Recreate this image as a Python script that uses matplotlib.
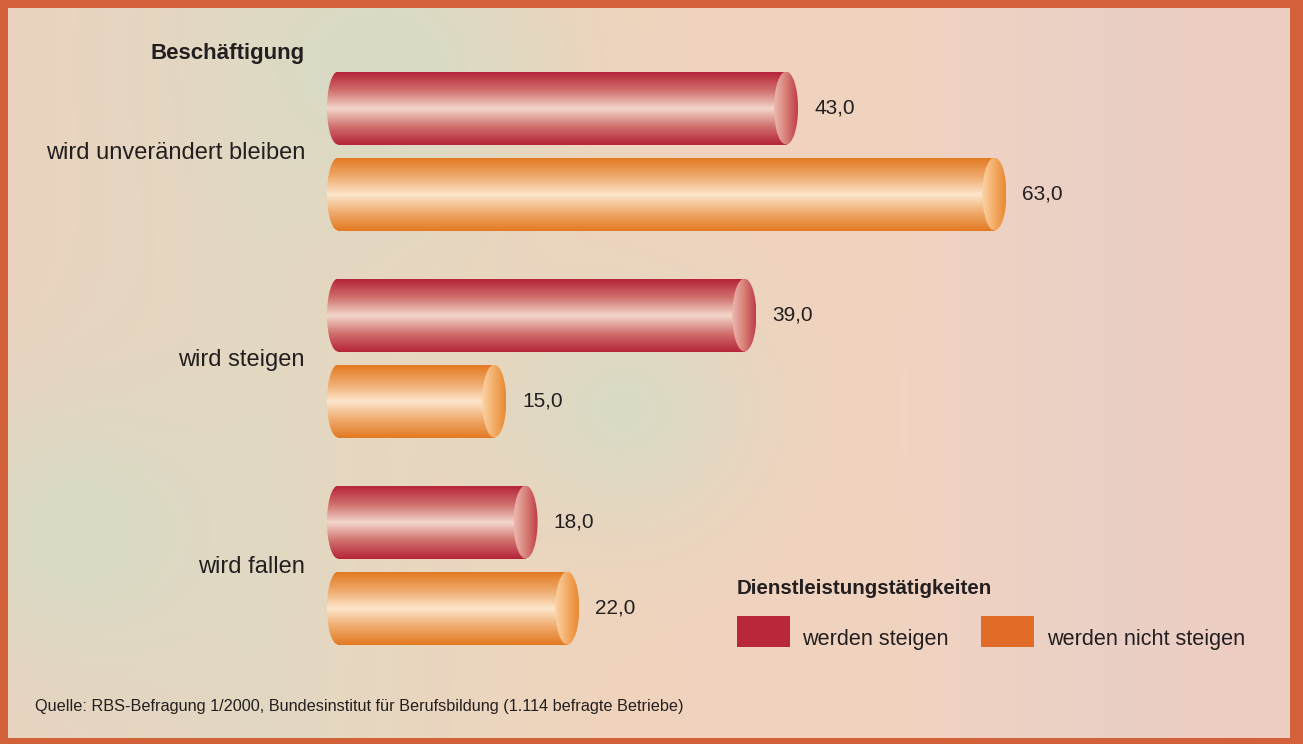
import numpy as np
import matplotlib
matplotlib.use("Agg")
import matplotlib.pyplot as plt
from matplotlib.colors import LinearSegmentedColormap, to_rgb
from matplotlib.patches import Ellipse, Rectangle

# data
categories = ["wird unverändert bleiben", "wird steigen", "wird fallen"]
steigen = [43.0, 39.0, 18.0]          # werden steigen
nicht_steigen = [63.0, 15.0, 22.0]    # werden nicht steigen
series_names = ["werden steigen", "werden nicht steigen"]
series_colors = ["#b8273a", "#e06c28"]
axis_title = "Beschäftigung"
legend_title = "Dienstleistungstätigkeiten"
source = "Quelle: RBS-Befragung 1/2000, Bundesinstitut für Berufsbildung (1.114 befragte Betriebe)"

plt.rcParams['font.family'] = ['Liberation Sans', 'DejaVu Sans']
TXT = "#231f20"

W, H = 1303, 744
fig = plt.figure(figsize=(W / 100, H / 100), dpi=100)
fig.patch.set_facecolor("#d2613a")

# panel background (smooth gradient)
bg = fig.add_axes([8 / W, 6 / H, 1282 / W, 730 / H])
bg.set_axis_off()
xs = np.linspace(0, 1, 400)
ys = np.linspace(0, 1, 240)
stops_x = [0.0, 0.2, 0.45, 0.7, 0.85, 1.0]
stops_c = [to_rgb(c) for c in ["#ead3bf", "#e3d8c2", "#efd4bd", "#f1d3c0", "#ead0c6", "#efcdc2"]]
img = np.zeros((len(ys), len(xs), 3))
for k in range(3):
    row = np.interp(xs, stops_x, [c[k] for c in stops_c])
    img[:, :, k] = row[None, :]
gx, gy = np.meshgrid(xs, ys)
green = np.array(to_rgb("#d5dcc6"))
for cx, cy, r in [(0.05, 0.72, 0.12), (0.3, 0.08, 0.12), (0.48, 0.55, 0.10)]:
    wgt = np.exp(-(((gx - cx) / r) ** 2 + ((gy - cy) / (r * 1.6)) ** 2))[..., None]
    img = img * (1 - 0.8 * wgt) + green * 0.8 * wgt
bg.imshow(img, aspect='auto', extent=(0, 1, 1, 0), interpolation='bicubic')
bg.set_xlim(0, 1)
bg.set_ylim(1, 0)

# bar axes: 1 x-unit = 10.42 px, zero at x=338 px; axes starts a bit left of zero
x0_px, px_per, ax_left = 338, 10.42, 318
ax = fig.add_axes([ax_left / W, 6 / H, (1290 - ax_left) / W, 730 / H])
ax.set_axis_off()
ax.patch.set_alpha(0)

red_cmap = LinearSegmentedColormap.from_list(
    "red", ["#b6243a", "#d0706c", "#f3d6cc", "#d0706c", "#b6243a"])
orange_cmap = LinearSegmentedColormap.from_list(
    "orange", ["#e27a22", "#efaa6c", "#fde6cc", "#efaa6c", "#e27a22"])
red_cap = LinearSegmentedColormap.from_list("rc", ["#ecb8ae", "#d88078", "#c03c48"])
orange_cap = LinearSegmentedColormap.from_list("oc", ["#fbd3a6", "#f3ad68", "#e88a32"])

bar_h = 73 / 207
offset = 43 / 207
cap_w = 24 / px_per
end_w = 22 / px_per

vgrad = np.linspace(0, 1, 200)[:, None]
hgrad = np.linspace(0, 1, 100)[None, :]


def cylinder(val, yc, body_cmap, cap_cmap):
    top, bot = yc - bar_h / 2, yc + bar_h / 2
    # body
    body = ax.imshow(vgrad, cmap=body_cmap, aspect='auto',
                     extent=(-end_w / 2, val, bot, top), interpolation='bicubic', zorder=2)
    clip = Rectangle((0, top), val, bar_h, facecolor='none', edgecolor='none')
    ax.add_patch(clip)
    body.set_clip_path(clip)
    # rounded left end
    lbody = ax.imshow(vgrad, cmap=body_cmap, aspect='auto',
                      extent=(-end_w / 2, end_w / 2, bot, top), interpolation='bicubic', zorder=2)
    lend = Ellipse((0, yc), end_w, bar_h, facecolor='none', edgecolor='none')
    ax.add_patch(lend)
    lbody.set_clip_path(lend)
    # end cap
    cap = Ellipse((val, yc), cap_w, bar_h, facecolor='none', edgecolor='none', zorder=3)
    ax.add_patch(cap)
    ci = ax.imshow(hgrad, cmap=cap_cmap, aspect='auto',
                   extent=(val - cap_w / 2, val + cap_w / 2, bot, top),
                   interpolation='bicubic', zorder=3)
    ci.set_clip_path(cap)
    ax.text(val + cap_w / 2 + 16 / px_per, yc, f"{val:.1f}".replace(".", ","),
            ha='left', va='center', fontsize=15, color=TXT, zorder=4)


for i, cat in enumerate(categories):
    cylinder(steigen[i], i - offset, red_cmap, red_cap)
    cylinder(nicht_steigen[i], i + offset, orange_cmap, orange_cap)
    ax.text(-33 / px_per, i + 0.01, cat, ha='right', va='center', fontsize=17,
            color=TXT, clip_on=False)

# y: group 0 centre at 151 px from top, 207 px per group
ax.set_ylim(-0.691 + 730 / 207, -0.691)
ax.set_xlim((ax_left - x0_px) / px_per, (1290 - x0_px) / px_per)

ax.text(-33 / px_per, -0.691 + 46 / 207, axis_title, ha='right', va='center',
        fontsize=16, fontweight='bold', color=TXT, clip_on=False)

# legend, laid out by hand
fig.text(737 / W, 1 - 589 / H, legend_title, ha='left', va='center',
         fontsize=14.8, fontweight='bold', color=TXT)
for name, col, px, tx in zip(series_names, series_colors, [737, 981], [802, 1047]):
    fig.patches.append(Rectangle((px / W, 1 - 647 / H), 53 / W, 31 / H,
                                 transform=fig.transFigure, facecolor=col,
                                 edgecolor='none'))
    fig.text(tx / W, 1 - 645 / H, name, ha='left', va='baseline',
             fontsize=15.6, color=TXT)

fig.text(35 / W, 1 - 706 / H, source, ha='left', va='center', fontsize=11.7, color=TXT)

fig.savefig("out.png", dpi=100, facecolor=fig.get_facecolor())
